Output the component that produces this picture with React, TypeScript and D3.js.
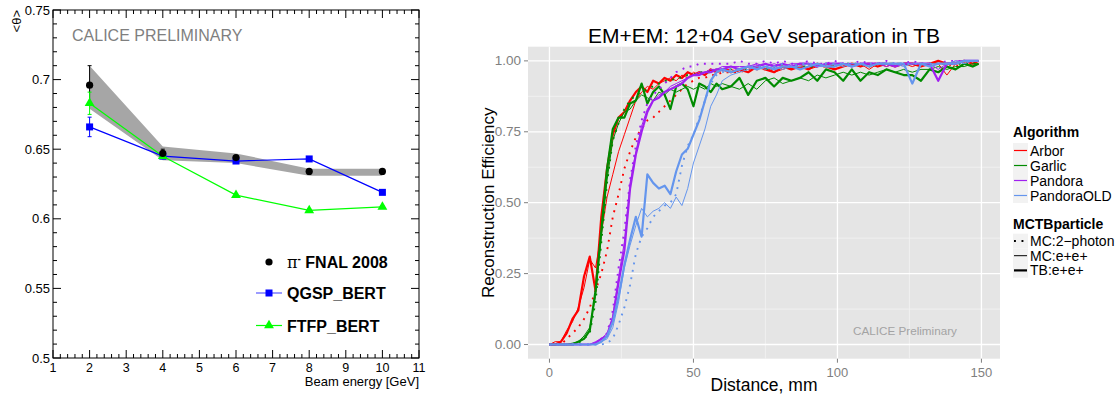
import * as d3 from 'd3';

// ---------- left panel data (ROOT plot) ----------
const energies = [2, 4, 6, 8, 10];
const fnal = [0.696, 0.647, 0.644, 0.634, 0.634];
const fnalErr = [0.014, 0.003, 0.001, 0.001, 0.001];
const bandHi = [0.71, 0.652, 0.647, 0.636, 0.636];
const bandLo = [0.679, 0.642, 0.64, 0.631, 0.631];
const qgsp = [0.666, 0.645, 0.6415, 0.643, 0.619];
const qgspErr = [0.007, 0.001, 0.001, 0.001, 0.001];
const ftfp = [0.683, 0.645, 0.617, 0.606, 0.6085];
const ftfpErr = [0.008, 0.001, 0.001, 0.001, 0.001];

// ---------- right panel data (ggplot) ----------
const distance = [
  0, 2, 4, 6, 8, 10, 12, 14, 16, 18, 20, 22, 24, 26, 28, 30, 32, 34, 36, 38,
  40, 42, 44, 46, 48, 50, 52, 54, 56, 58, 60,
  63, 66, 69, 72, 75, 78, 81, 84, 87, 90, 93, 96, 99, 102, 105, 108, 111, 114,
  117, 120, 123, 126, 129, 132, 135, 138, 141, 144, 147, 149,
];

const arborTB = [
  0, 0, 0.01, 0.04, 0.09, 0.12, 0.24, 0.31, 0.19, 0.45,
  0.62, 0.74, 0.8, 0.82, 0.86, 0.89, 0.91, 0.89, 0.93, 0.92,
  0.94, 0.93, 0.95, 0.94, 0.96, 0.95, 0.96, 0.95, 0.97, 0.96,
  0.97,
  0.96, 0.97, 0.96, 0.98, 0.97, 0.96, 0.98, 0.97, 0.98, 0.97,
  0.99, 0.98, 0.97, 0.98, 0.99, 0.98, 0.99, 0.98, 0.99, 0.98,
  0.99, 0.99, 0.98, 0.99, 1.0, 0.99, 0.99, 1.0, 0.99, 1.0,
];
const arborMC = [
  0, 0.01, 0.01, 0.05, 0.08, 0.13, 0.2, 0.3, 0.27, 0.39,
  0.52, 0.6, 0.68, 0.74, 0.8, 0.86, 0.89, 0.91, 0.9, 0.92,
  0.93, 0.94, 0.93, 0.95, 0.94, 0.96, 0.95, 0.96, 0.97, 0.96,
  0.97,
  0.97, 0.96, 0.98, 0.97, 0.98, 0.96, 0.97, 0.98, 0.99, 0.97,
  0.98, 0.99, 0.98, 0.99, 0.98, 0.99, 0.97, 0.99, 0.98, 0.99,
  0.99, 0.98, 0.99, 0.99, 0.99, 0.95, 0.99, 1.0, 0.99, 1.0,
];
const arborMC2 = [
  0, 0, 0, 0.02, 0.04, 0.06, 0.09, 0.13, 0.19, 0.25,
  0.33, 0.45, 0.53, 0.62, 0.68, 0.73, 0.76, 0.79, 0.8, 0.82,
  0.84, 0.86, 0.88, 0.9, 0.92, 0.93, 0.94, 0.94, 0.95, 0.95,
  0.96,
  0.96, 0.96, 0.97, 0.97, 0.97, 0.97, 0.98, 0.98, 0.98, 0.98,
  0.98, 0.98, 0.99, 0.98, 0.99, 0.99, 0.99, 0.99, 0.99, 0.99,
  0.99, 0.99, 0.99, 0.99, 0.99, 0.99, 0.98, 0.99, 0.98, 0.99,
];
const garlicTB = [
  0, 0, 0, 0, 0, 0.01, 0.02, 0.05, 0.19, 0.4,
  0.62, 0.76, 0.8, 0.8, 0.85, 0.86, 0.92, 0.85, 0.89, 0.91,
  0.88, 0.83, 0.91, 0.92, 0.9, 0.84, 0.92, 0.91, 0.89, 0.92,
  0.9,
  0.91, 0.94, 0.88, 0.93, 0.94, 0.91, 0.94, 0.93, 0.94, 0.96,
  0.93, 0.97, 0.96, 0.93, 0.97, 0.93, 0.96, 0.95, 0.97, 0.96,
  0.95, 0.95, 0.93, 0.97, 0.96, 0.98, 0.97, 0.99, 0.98, 0.99,
];
const garlicMC = [
  0, 0, 0, 0, 0.005, 0.01, 0.03, 0.06, 0.17, 0.38,
  0.58, 0.72, 0.78, 0.82, 0.83, 0.86, 0.88, 0.87, 0.86, 0.89,
  0.88, 0.9, 0.89, 0.9, 0.91, 0.9, 0.91, 0.9, 0.92, 0.91,
  0.92,
  0.91, 0.9, 0.92, 0.9, 0.93, 0.94, 0.92, 0.93, 0.94, 0.93,
  0.95, 0.94, 0.95, 0.96, 0.95, 0.96, 0.95, 0.96, 0.97, 0.96,
  0.97, 0.96, 0.97, 0.97, 0.98, 0.97, 0.98, 0.98, 0.99, 0.99,
];
const garlicMC2 = [
  0, 0, 0, 0, 0, 0.005, 0.02, 0.04, 0.15, 0.36,
  0.57, 0.72, 0.78, 0.83, 0.86, 0.88, 0.89, 0.9, 0.91, 0.92,
  0.93, 0.93, 0.94, 0.94, 0.95, 0.95, 0.96, 0.96, 0.96, 0.97,
  0.97,
  0.97, 0.97, 0.97, 0.98, 0.97, 0.98, 0.98, 0.98, 0.98, 0.98,
  0.98, 0.99, 0.98, 0.99, 0.99, 0.99, 0.98, 0.99, 0.99, 0.99,
  0.99, 0.99, 0.99, 0.99, 0.99, 0.99, 0.99, 0.99, 0.99, 0.99,
];
const pandoraTB = [
  0, 0, 0, 0, 0, 0, 0, 0, 0.005, 0.02,
  0.03, 0.09, 0.22, 0.33, 0.55, 0.67, 0.75, 0.82, 0.86, 0.87,
  0.89, 0.9, 0.91, 0.92, 0.94, 0.95, 0.95, 0.96, 0.96, 0.97,
  0.97,
  0.98, 0.97, 0.98, 0.98, 0.99, 0.98, 0.99, 0.98, 0.99, 0.99,
  0.98, 0.99, 0.99, 0.99, 0.98, 0.99, 0.99, 0.99, 0.99, 0.98,
  0.99, 0.99, 0.99, 0.99, 0.93, 0.99, 0.99, 1.0, 1.0, 1.0,
];
const pandoraMC = [
  0, 0, 0, 0, 0, 0, 0, 0, 0.01, 0.02,
  0.04, 0.1, 0.24, 0.36, 0.57, 0.68, 0.77, 0.83, 0.86, 0.88,
  0.89, 0.91, 0.92, 0.93, 0.94, 0.95, 0.96, 0.96, 0.97, 0.97,
  0.98,
  0.98, 0.98, 0.98, 0.99, 0.98, 0.99, 0.98, 0.99, 0.99, 0.99,
  0.99, 0.98, 0.99, 0.99, 0.99, 0.99, 0.99, 0.99, 0.98, 0.99,
  0.99, 0.99, 0.99, 0.99, 0.97, 0.99, 1.0, 1.0, 1.0, 1.0,
];
const pandoraMC2 = [
  0, 0, 0, 0, 0, 0, 0, 0, 0.005, 0.02,
  0.04, 0.12, 0.27, 0.4, 0.58, 0.7, 0.79, 0.85, 0.88, 0.9,
  0.92, 0.94, 0.96, 0.97, 0.98, 0.98, 0.99, 0.99, 0.99, 0.99,
  0.99,
  0.99, 1.0, 0.99, 0.99, 1.0, 0.99, 1.0, 0.99, 0.99, 1.0,
  0.99, 0.99, 1.0, 0.99, 0.99, 1.0, 0.99, 0.99, 1.0, 0.99,
  0.99, 1.0, 0.99, 0.99, 0.99, 1.0, 1.0, 1.0, 1.0, 1.0,
];
const oldTB = [
  0, 0, 0, 0, 0, 0, 0, 0, 0, 0.01,
  0.03, 0.08, 0.17, 0.28, 0.37, 0.45, 0.38, 0.6, 0.57, 0.55,
  0.56, 0.53, 0.61, 0.67, 0.69, 0.74, 0.79, 0.86, 0.93, 0.96,
  0.97,
  0.96, 0.97, 0.98, 0.97, 0.98, 0.97, 0.98, 0.98, 0.97, 0.98,
  0.99, 0.98, 0.98, 0.99, 0.98, 0.99, 0.98, 0.99, 0.99, 0.99,
  0.99, 0.92, 0.99, 0.98, 0.99, 0.99, 0.99, 1.0, 1.0, 1.0,
];
const oldMC = [
  0, 0, 0, 0, 0, 0, 0, 0, 0, 0.01,
  0.02, 0.06, 0.15, 0.27, 0.35, 0.42, 0.48, 0.45, 0.47, 0.48,
  0.5, 0.48, 0.52, 0.49, 0.55, 0.64, 0.7, 0.76, 0.84, 0.88,
  0.93,
  0.95, 0.96, 0.97, 0.98, 0.97, 0.98, 0.97, 0.98, 0.98, 0.99,
  0.98, 0.98, 0.99, 0.98, 0.99, 0.99, 0.98, 0.99, 0.99, 0.99,
  0.98, 0.99, 0.99, 0.99, 0.99, 0.99, 1.0, 0.99, 1.0, 1.0,
];
const oldMC2 = [
  0, 0, 0, 0, 0, 0, 0, 0, 0, 0,
  0.005, 0.02, 0.07, 0.13, 0.21, 0.32, 0.38, 0.41, 0.45, 0.47,
  0.49, 0.5, 0.53, 0.63, 0.7, 0.74, 0.8, 0.86, 0.92, 0.95,
  0.96,
  0.97, 0.97, 0.98, 0.98, 0.98, 0.98, 0.99, 0.98, 0.99, 0.99,
  0.99, 0.99, 0.99, 0.99, 0.99, 0.99, 0.99, 0.99, 0.99, 0.99,
  0.99, 0.99, 0.99, 0.99, 0.99, 0.99, 0.99, 1.0, 1.0, 1.0,
];

const algorithms = ['Arbor', 'Garlic', 'Pandora', 'PandoraOLD'];
const algColors = ['#ff0000', '#008b00', '#a020f0', '#6495ed'];
const particles = ['MC:2\u2212photon', 'MC:e+e+', 'TB:e+e+'];
const seriesByAlg = [
  [arborMC2, arborMC, arborTB],
  [garlicMC2, garlicMC, garlicTB],
  [pandoraMC2, pandoraMC, pandoraTB],
  [oldMC2, oldMC, oldTB],
];
const distTicks = [0, 50, 100, 150];
const effTicks = [0, 0.25, 0.5, 0.75, 1];

const FONT = 'Liberation Sans, Arial, Helvetica, sans-serif';

// linetype per particle: dotted / thin / thick
const lineStyle = [
  { w: 1.9, dash: '1.9,5.6' },
  { w: 1, dash: null },
  { w: 2.2, dash: null },
];

function LeftPanel() {
  const x = d3.scaleLinear().domain([1, 11]).range([53, 419]);
  const y = d3.scaleLinear().domain([0.5, 0.75]).range([358, 10]);
  const [x0, x1] = x.range();
  const [y0, y1] = y.range();

  const xMajor = x.ticks(10);
  const xMinor = x.ticks(50).filter(t => Math.abs(t - Math.round(t)) > 1e-6);
  const yMajor = y.ticks(5);
  const yMinor = y.ticks(25).filter(t => !yMajor.some(m => Math.abs(m - t) < 1e-6));

  const band = d3.area<number>()
    .x((_, i) => x(energies[i]))
    .y0((_, i) => y(bandLo[i]))
    .y1((_, i) => y(bandHi[i]));

  const line = d3.line<number>()
    .x((_, i) => x(energies[i]))
    .y(d => y(d));

  const tri = d3.symbol(d3.symbolTriangle, 42)();

  const errBars = (vals: number[], errs: number[], color: string) =>
    vals.map((v, i) => (
      <g key={i} stroke={color} strokeWidth={1}>
        <line x1={x(energies[i])} x2={x(energies[i])} y1={y(v - errs[i])} y2={y(v + errs[i])} />
        <line x1={x(energies[i]) - 2} x2={x(energies[i]) + 2} y1={y(v - errs[i])} y2={y(v - errs[i])} />
        <line x1={x(energies[i]) - 2} x2={x(energies[i]) + 2} y1={y(v + errs[i])} y2={y(v + errs[i])} />
      </g>
    ));

  return (
    <g fontFamily={FONT}>
      <path d={band(fnal) as string} fill="#a6a6a6" />

      {errBars(fnal, fnalErr, '#000')}
      {errBars(qgsp, qgspErr, '#0000ff')}
      {errBars(ftfp, ftfpErr, '#00ff00')}

      <path d={line(qgsp) as string} fill="none" stroke="#0000ff" strokeWidth={1.2} />
      {qgsp.map((v, i) => (
        <rect key={i} x={x(energies[i]) - 3.5} y={y(v) - 3.5} width={7} height={7} fill="#0000ff" />
      ))}

      <path d={line(ftfp) as string} fill="none" stroke="#00ff00" strokeWidth={1.2} />
      {ftfp.map((v, i) => (
        <path key={i} d={tri as string} transform={`translate(${x(energies[i])},${y(v)})`} fill="#00ff00" />
      ))}

      {fnal.map((v, i) => (
        <circle key={i} cx={x(energies[i])} cy={y(v)} r={3.6} fill="#000" />
      ))}

      {/* frame */}
      <rect x={x0} y={y1} width={x1 - x0} height={y0 - y1} fill="none" stroke="#000" strokeWidth={1} />

      {/* ticks on all four sides */}
      <g stroke="#000" strokeWidth={1}>
        {xMajor.map(t => (
          <g key={'xM' + t}>
            <line x1={x(t)} x2={x(t)} y1={y0} y2={y0 - 8} />
            <line x1={x(t)} x2={x(t)} y1={y1} y2={y1 + 8} />
          </g>
        ))}
        {xMinor.map(t => (
          <g key={'xm' + t}>
            <line x1={x(t)} x2={x(t)} y1={y0} y2={y0 - 4} />
            <line x1={x(t)} x2={x(t)} y1={y1} y2={y1 + 4} />
          </g>
        ))}
        {yMajor.map(t => (
          <g key={'yM' + t}>
            <line x1={x0} x2={x0 + 8} y1={y(t)} y2={y(t)} />
            <line x1={x1} x2={x1 - 8} y1={y(t)} y2={y(t)} />
          </g>
        ))}
        {yMinor.map(t => (
          <g key={'ym' + t}>
            <line x1={x0} x2={x0 + 4} y1={y(t)} y2={y(t)} />
            <line x1={x1} x2={x1 - 4} y1={y(t)} y2={y(t)} />
          </g>
        ))}
      </g>

      {xMajor.map(t => (
        <text key={'xl' + t} x={x(t)} y={372} textAnchor="middle" fontSize={12.5}>{t}</text>
      ))}
      {yMajor.map(t => (
        <text key={'yl' + t} x={x0 - 3} y={y(t) + 4.5} textAnchor="end" fontSize={13}>{+t.toFixed(2)}</text>
      ))}

      <text x={x1} y={386} textAnchor="end" fontSize={13}>Beam energy [GeV]</text>
      <text transform="translate(21,10) rotate(-90)" textAnchor="end" fontSize={13}>{'<\u03b8>'}</text>

      <text x={72} y={40.7} fontSize={16} fill="#7f7f7f">CALICE PRELIMINARY</text>

      {/* legend */}
      <circle cx={269} cy={262} r={3.6} fill="#000" />
      <text x={287} y={268.3} fontSize={16} fontWeight="bold">
        <tspan fontFamily="DejaVu Serif, serif" fontWeight="normal">{'\u03c0'}</tspan>
        <tspan dy={-6} fontSize={10}>-</tspan>
        <tspan dy={6}> FNAL 2008</tspan>
      </text>

      <line x1={256} x2={282} y1={293} y2={293} stroke="#5a5aff" strokeWidth={1.2} />
      <rect x={265.5} y={289.5} width={7} height={7} fill="#0000ff" />
      <text x={287} y={299.3} fontSize={16} fontWeight="bold">QGSP_BERT</text>

      <line x1={256} x2={282} y1={325.5} y2={325.5} stroke="#00ff00" strokeWidth={1.2} />
      <path d={tri as string} transform="translate(269,325.5)" fill="#00ff00" />
      <text x={287} y={331.7} fontSize={16} fontWeight="bold">FTFP_BERT</text>
    </g>
  );
}

function RightPanel() {
  const x = d3.scaleLinear().domain([-7.45, 156.45]).range([528, 1000]);
  const y = d3.scaleLinear().domain([-0.05, 1.05]).range([358.7, 46.7]);
  const [x0, x1] = x.range();
  const [y0, y1] = y.range();

  const xMinor = distTicks.slice(1).map((t, i) => (t + distTicks[i]) / 2);
  const yMinor = effTicks.slice(1).map((t, i) => (t + effTicks[i]) / 2);

  const line = d3.line<number>()
    .x((_, i) => x(distance[i]))
    .y(d => y(d));

  const fmt = d3.format('.2f');

  return (
    <g fontFamily={FONT}>
      <defs>
        <clipPath id="rclip">
          <rect x={x0} y={y1} width={x1 - x0} height={y0 - y1} />
        </clipPath>
      </defs>
      <rect x={x0} y={y1} width={x1 - x0} height={y0 - y1} fill="#e5e5e5" />
      <g stroke="#f2f2f2" strokeWidth={0.8}>
        {xMinor.map(t => <line key={'gx' + t} x1={x(t)} x2={x(t)} y1={y1} y2={y0} />)}
        {yMinor.map(t => <line key={'gy' + t} x1={x0} x2={x1} y1={y(t)} y2={y(t)} />)}
      </g>
      <g stroke="#ffffff" strokeWidth={1.3}>
        {distTicks.map(t => <line key={'Gx' + t} x1={x(t)} x2={x(t)} y1={y1} y2={y0} />)}
        {effTicks.map(t => <line key={'Gy' + t} x1={x0} x2={x1} y1={y(t)} y2={y(t)} />)}
      </g>

      <g clipPath="url(#rclip)" fill="none" strokeLinejoin="round">
        {seriesByAlg.map((group, a) =>
          group.map((vals, p) => (
            <path
              key={a + '-' + p}
              d={line(vals) as string}
              stroke={algColors[a]}
              strokeWidth={lineStyle[p].w}
              strokeDasharray={lineStyle[p].dash ?? undefined}
            />
          ))
        )}
      </g>

      {/* axes */}
      <g stroke="#7f7f7f" strokeWidth={1}>
        {distTicks.map(t => <line key={'tx' + t} x1={x(t)} x2={x(t)} y1={y0} y2={y0 + 4} />)}
        {effTicks.map(t => <line key={'ty' + t} x1={x0 - 4} x2={x0} y1={y(t)} y2={y(t)} />)}
      </g>
      {distTicks.map(t => (
        <text key={'lx' + t} x={x(t)} y={376.5} textAnchor="middle" fontSize={13} fill="#7f7f7f">{t}</text>
      ))}
      {effTicks.map(t => (
        <text key={'ly' + t} x={x0 - 7} y={y(t) + 4.6} textAnchor="end" fontSize={13.5} fill="#7f7f7f">{fmt(t)}</text>
      ))}

      <text x={(x0 + x1) / 2} y={391} textAnchor="middle" fontSize={17.5}>Distance, mm</text>
      <text transform={`translate(494,${(y0 + y1) / 2}) rotate(-90)`} textAnchor="middle" fontSize={17}>
        Reconstruction Efficiency
      </text>
      <text x={(x0 + x1) / 2} y={43.3} textAnchor="middle" fontSize={21}>
        EM+EM: 12+04 GeV separation in TB
      </text>

      <text x={853} y={335} fontSize={11.7} fill="#a3a3a3">CALICE Preliminary</text>

      {/* legend */}
      <text x={1013} y={137.3} fontSize={14} fontWeight="bold">Algorithm</text>
      {algorithms.map((name, i) => {
        const cy = 150.5 + i * 15;
        return (
          <g key={name}>
            <rect x={1013} y={cy - 7.5} width={15} height={15} fill="#f2f2f2" />
            <line x1={1014} x2={1027} y1={cy} y2={cy} stroke={algColors[i]} strokeWidth={1.2} />
            <text x={1030} y={cy + 5} fontSize={14}>{name}</text>
          </g>
        );
      })}
      <text x={1013} y={229} fontSize={14} fontWeight="bold">MCTBparticle</text>
      {particles.map((name, i) => {
        const cy = 241 + i * 14.7;
        return (
          <g key={name}>
            <rect x={1013} y={cy - 7.35} width={15} height={14.7} fill="#f2f2f2" />
            <line
              x1={1014} x2={1027} y1={cy} y2={cy}
              stroke="#000"
              strokeWidth={lineStyle[i].w}
              strokeDasharray={lineStyle[i].dash ?? undefined}
            />
            <text x={1030} y={cy + 5} fontSize={14}>{name}</text>
          </g>
        );
      })}
    </g>
  );
}

export default function App() {
  return (
    <svg
      width={1118}
      height={396}
      style={{ position: 'absolute', left: 0, top: 0, background: '#fff' }}
    >
      <rect width={1118} height={396} fill="#fff" />
      <LeftPanel />
      <RightPanel />
    </svg>
  );
}
